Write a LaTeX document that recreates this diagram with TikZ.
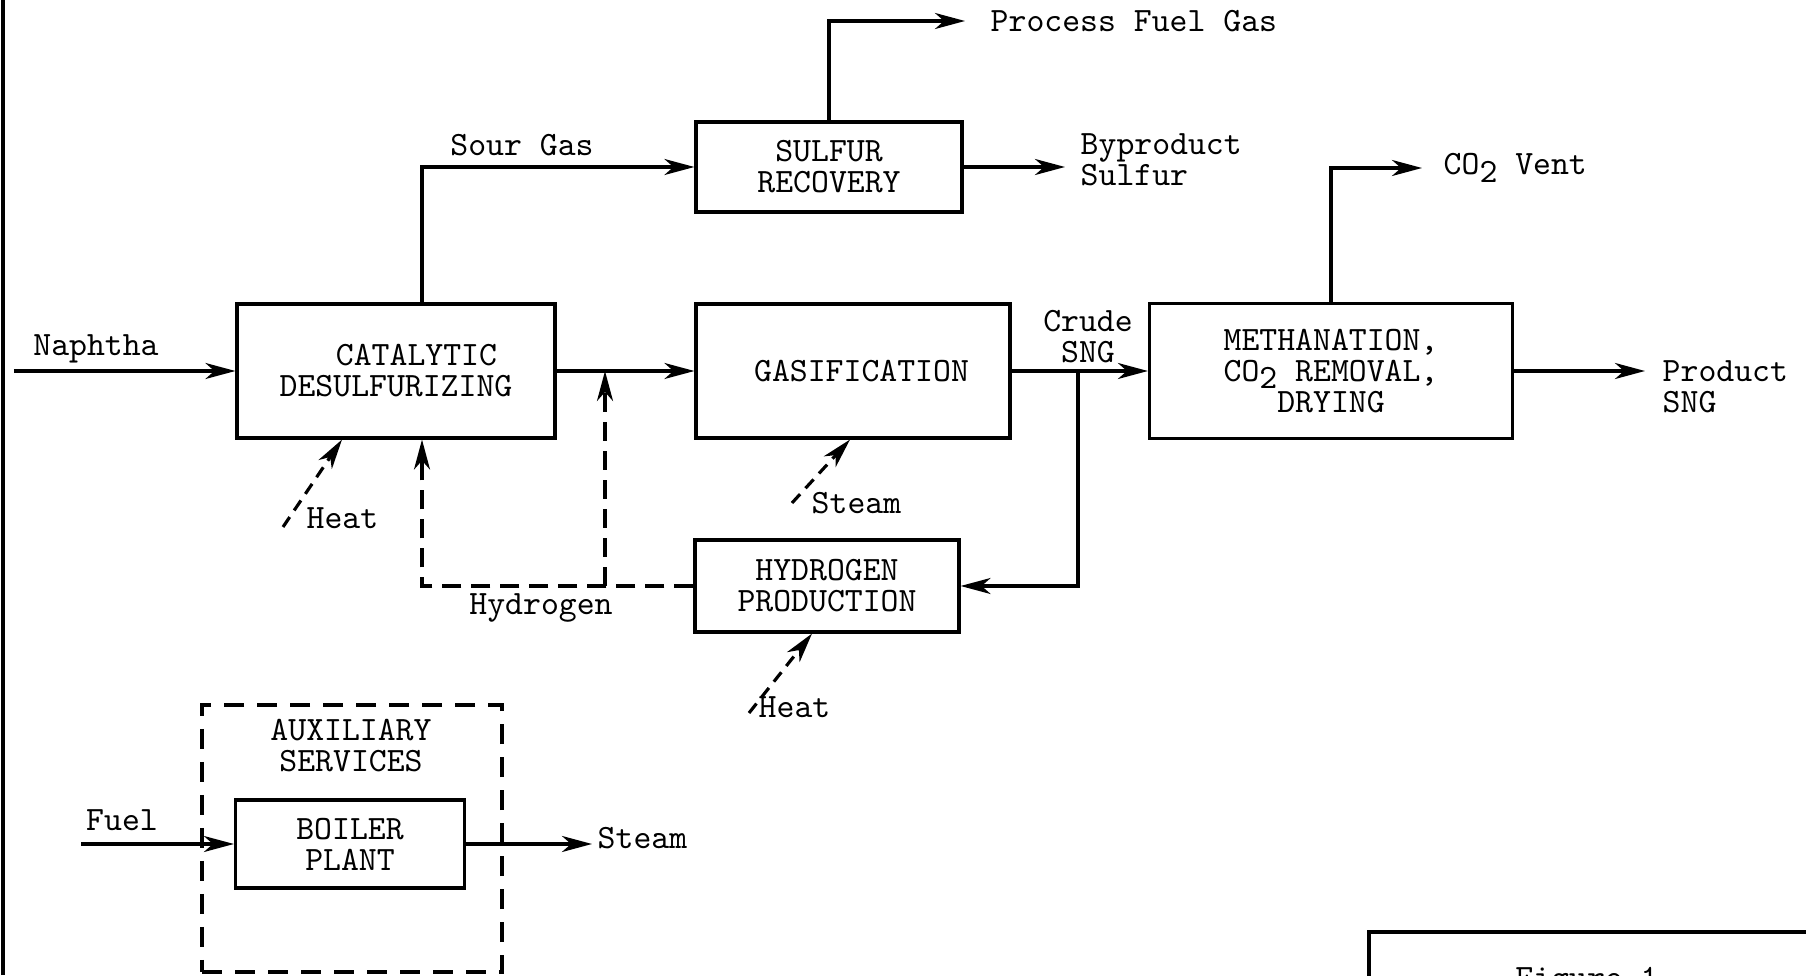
\documentclass[tikz,border=0pt]{standalone}
\usepackage{fontspec}
\usetikzlibrary{arrows.meta}
\newcommand{\lowtwo}{\raisebox{-0.5ex}{2}}

\begin{document}
\begin{tikzpicture}[every node/.style={font=\ttfamily\fontsize{9.7}{8.8}\selectfont, inner sep=0pt},
    blk/.style={draw, line width=0.9pt, align=center},
    flow/.style={line width=0.9pt, -{Stealth[length=3mm, width=1.6mm, inset=0.9mm]}},
    hflow/.style={flow, dash pattern=on 1.2mm off 0.8mm},
    h2flow/.style={flow, dash pattern=on 1.9mm off 1mm}]
\useasboundingbox (0,0) rectangle (18.06,9.75);
\clip (0,0) rectangle (18.06,9.75);
% --- bordo pagina ---
\draw[line width=0.9pt] (0.03,0) -- (0.03,9.75);
% --- blocchi ---
\node[blk, minimum width=3.18cm, minimum height=1.34cm] (desulf) at (3.96,6.04) {\hspace*{1.2em}CATALYTIC\\DESULFURIZING};
\node[blk, minimum width=2.66cm, minimum height=0.90cm] (sulfur) at (8.29,8.08) {SULFUR\\RECOVERY};
\node[blk, minimum width=3.14cm, minimum height=1.34cm] (gasif) at (8.53,6.04) {\hspace*{0.5em}GASIFICATION};
\node[blk, minimum width=3.63cm, minimum height=1.35cm] (meth) at (13.31,6.04) {METHANATION,\\CO\lowtwo{} REMOVAL,\\DRYING};
\node[blk, minimum width=2.64cm, minimum height=0.92cm] (hydro) at (8.27,3.89) {HYDROGEN\\PRODUCTION};
\node[draw, line width=0.9pt, dash pattern=on 2mm off 1.3mm, minimum width=3.00cm, minimum height=2.67cm] (aux) at (3.52,1.365) {};
\node[align=center] (auxlbl) at (3.51,2.29) {AUXILIARY\\SERVICES};
\node[blk, minimum width=2.29cm, minimum height=0.88cm] (boiler) at (3.50,1.31) {BOILER\\PLANT};
% --- etichette ---
\node (naph) at (0.96,6.26) {Naphtha};
\node (sour) at (5.22,8.30) {Sour Gas};
\node[anchor=west] (pfg) at (9.90,9.54) {Process Fuel Gas};
\node[anchor=west, align=left] (byprod) at (10.80,8.15) {Byproduct\\Sulfur};
\node[align=center] (crude) at (10.88,6.38) {Crude\\SNG};
\node[anchor=base west] (co2) at (14.43,8.00) {CO\lowtwo{} Vent};
\node[anchor=west, align=left] (prod) at (16.62,5.88) {Product\\SNG};
\node[anchor=north] (hyd) at (5.41,3.82) {Hydrogen};
\node[anchor=west] (heat1) at (3.06,4.57) {Heat};
\node[anchor=west] (steam1) at (8.11,4.72) {Steam};
\node[anchor=west] (heat2) at (7.58,2.68) {Heat};
\node (fuel) at (1.22,1.55) {Fuel};
\node[anchor=west] (steam2) at (5.97,1.37) {Steam};
% --- estremi liberi ---
\coordinate (nin) at (0.14,6.04);
\coordinate (tap) at (10.78,6.04);
\coordinate (h2tap) at (6.05,3.89);
\coordinate (heatin) at (2.83,4.48);
\coordinate (steamin) at (7.92,4.72);
\coordinate (heatinb) at (7.49,2.62);
\coordinate (fuelin) at (0.81,1.31);
% --- flussi ---
\draw[flow] (nin) -- (desulf.west);
\draw[flow] ([xshift=0.26cm]desulf.north) |- (sulfur.west);
\draw[flow] (sulfur.north) |- ([xshift=-2.5mm]pfg.west);
\draw[flow, shorten >=1.5mm] (sulfur.east) -- (sulfur.east -| byprod.west);
\draw[flow] (desulf.east) -- (gasif.west);
\draw[flow] (gasif.east) -- (meth.west);
\draw[flow, shorten >=2.1mm] (meth.north) |- (co2.west |- 0,8.07);
\draw[flow, shorten >=1.7mm] (meth.east) -- (meth.east -| prod.west);
\draw[flow] (tap) |- (hydro.east);
\draw[h2flow] (hydro.west) -| ([xshift=0.26cm]desulf.south);
\draw[h2flow] (h2tap) -- (h2tap |- desulf.east);
\draw[hflow] (heatin) -- ([xshift=-0.54cm]desulf.south);
\draw[hflow] (steamin) -- ([xshift=-0.03cm]gasif.south);
\draw[hflow] (heatinb) -- ([xshift=-0.15cm]hydro.south);
\draw[flow] (fuelin) -- (boiler.west);
\draw[flow, shorten >=0.5mm] (boiler.east) -- (boiler.east -| steam2.west);
% --- riquadro figura ---
\draw[line width=0.9pt] (13.69,-0.5) rectangle (18.6,0.43);
\node[anchor=north] (fig) at (15.87,0.08) {Figure 1};
\end{tikzpicture}
\end{document}
